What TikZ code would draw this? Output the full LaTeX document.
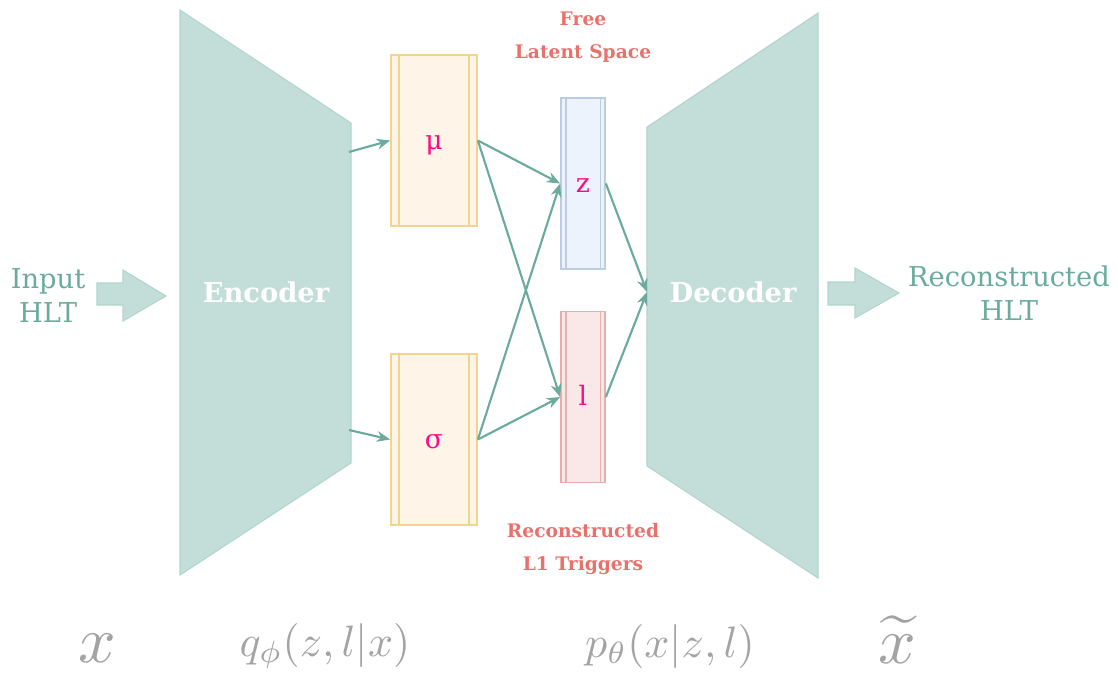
\documentclass[tikz,border=0pt]{standalone}
\usepackage{fontspec}
\setmainfont{DejaVu Serif}
\usetikzlibrary{arrows.meta}

\definecolor{netfill}{HTML}{C3DED8}
\definecolor{netline}{HTML}{B2D5CD}
\definecolor{flowcol}{HTML}{6AAB9E}
\definecolor{goldfill}{HTML}{FFF4E8}
\definecolor{goldline}{HTML}{F0D58F}
\definecolor{bluefill}{HTML}{EDF3FC}
\definecolor{blueline}{HTML}{BCCCE3}
\definecolor{redfill}{HTML}{FAE8E8}
\definecolor{redline}{HTML}{E3AFAF}
\definecolor{tagcol}{HTML}{E8716C}
\definecolor{varcol}{HTML}{FF0A84}
\definecolor{mathgray}{HTML}{A3A3A3}

\tikzset{
  net/.style={fill=netfill,draw=netline,line width=0.8pt},
  flow/.style={draw=flowcol,line width=1.6pt,-{Stealth[length=10pt,width=8pt]}},
  latent/.style={rectangle,inner sep=0pt,line width=1.3pt,minimum height=128.25pt,
    text height=13.2pt,text depth=0pt,text=varcol,font=\fontsize{20}{22}\selectfont},
  mubox/.style={latent,draw=goldline,fill=goldfill,minimum width=64.5pt},
  zbox/.style={latent,draw=blueline,fill=bluefill,minimum width=33pt},
  lbox/.style={latent,draw=redline,fill=redfill,minimum width=33pt},
  io/.style={text=flowcol,align=center,font=\fontsize{20.5}{25.5}\selectfont},
  tag/.style={text=tagcol,align=center,font=\bfseries\fontsize{14}{25}\selectfont},
  stage/.style={text=white,font=\bfseries\fontsize{20.5}{24}\selectfont},
  mth/.style={text=mathgray,scale=3.3}
}

\begin{document}
\begin{tikzpicture}[x=0.75pt,y=-0.75pt]
  \useasboundingbox (0,0) rectangle (1118,675);

  % encoder and decoder bodies
  \draw[net] (180,10) -- (351,123) -- (351,463) -- (180,575) -- cycle;
  \draw[net] (818,13) -- (647,127) -- (647,466) -- (818,578) -- cycle;
  \node[stage] (enc) at (266,292) {Encoder};
  \node[stage] (dec) at (733,292) {Decoder};

  % input / output block arrows
  \draw[net] (97,283) -- (123,283) -- (123,270) -- (166,296) -- (123,321) -- (123,305) -- (97,305) -- cycle;
  \draw[net] (828,282) -- (855,282) -- (855,268) -- (899,293) -- (855,318) -- (855,305) -- (828,305) -- cycle;
  \node[io] (inp) at (48,296) {Input\\HLT};
  \node[io] (out) at (1009,293) {Reconstructed\\HLT};

  % latent boxes
  \node[mubox] (mu) at (434,140.5) {μ};
  \node[mubox] (sig) at (434,439.5) {σ};
  \node[zbox] (z) at (583,183.5) {z};
  \node[lbox] (l) at (583,397) {l};
  \foreach \b in {mu,sig}{
    \draw[goldline,line width=1.1pt] ([xshift=6.75pt]\b.north west) -- ([xshift=6.75pt]\b.south west);
    \draw[goldline,line width=1.1pt] ([xshift=-6.75pt]\b.north east) -- ([xshift=-6.75pt]\b.south east);
  }
  \draw[blueline,line width=1.1pt] ([xshift=4.5pt]z.north west) -- ([xshift=4.5pt]z.south west);
  \draw[blueline,line width=1.1pt] ([xshift=-4pt]z.north east) -- ([xshift=-4pt]z.south east);
  \draw[redline,line width=1.1pt] ([xshift=4.5pt]l.north west) -- ([xshift=4.5pt]l.south west);
  \draw[redline,line width=1.1pt] ([xshift=-4pt]l.north east) -- ([xshift=-4pt]l.south east);

  \node[tag] (free) at (583,37) {Free\\Latent Space};
  \node[tag] (rec) at (583,549) {Reconstructed\\L1 Triggers};

  % connections
  \coordinate (e1) at (349,152);
  \coordinate (e2) at (349,430);
  \coordinate (d0) at (647,292);
  \draw[flow] (e1) -- (mu.west);
  \draw[flow] (e2) -- (sig.west);
  \draw[flow] (mu.east) -- (z.west);
  \draw[flow] (mu.east) -- (l.west);
  \draw[flow] (sig.east) -- (z.west);
  \draw[flow] (sig.east) -- (l.west);
  \draw[flow] (z.east) -- (d0);
  \draw[flow] (l.east) -- (d0);

  % distributions
  \node[mth,scale=1.5] (xin) at (97,648) {$x$};
  \node[mth] (qenc) at (325,646) {$q_\phi(z,l|x)$};
  \node[mth] (pdec) at (670,646) {$p_\theta(x|z,l)$};
  \node[mth,scale=1.5] (xout) at (897,640) {$\widetilde{x}$};
\end{tikzpicture}
\end{document}
